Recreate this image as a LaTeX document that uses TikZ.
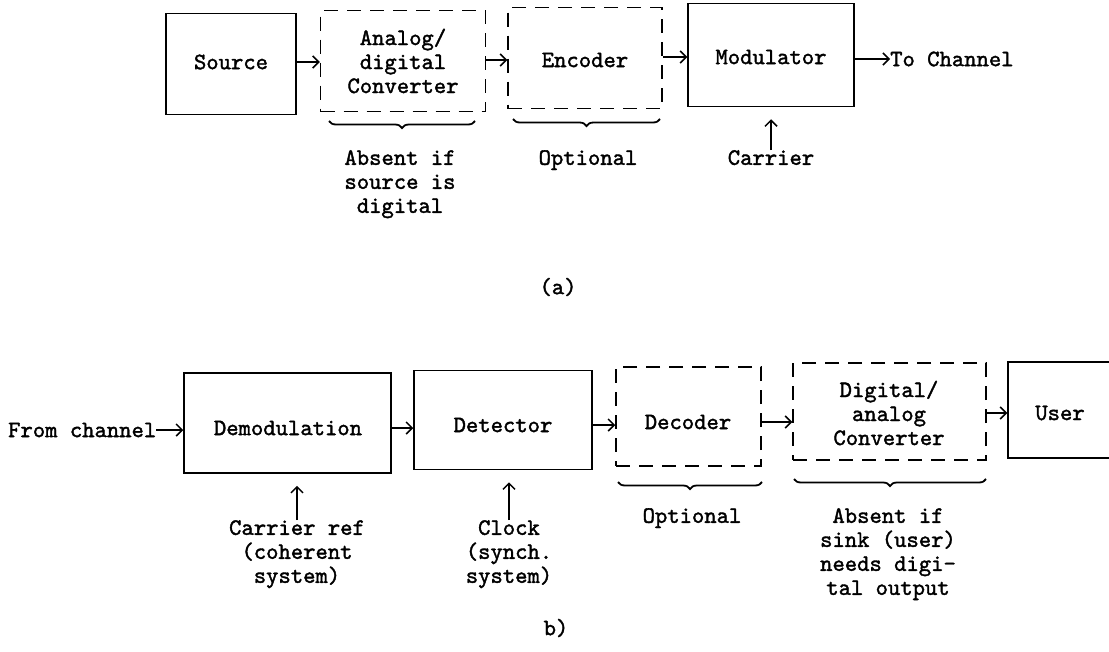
\documentclass[tikz,border=0pt]{standalone}
\usepackage{fontspec}
\newfontfamily\twfont{lmmono10-regular.otf}[FakeBold=1.6]
\usetikzlibrary{arrows.meta,decorations.pathreplacing}
\begin{document}
\begin{tikzpicture}[x=1pt,y=-1pt,
  box/.style={draw, line width=1.5pt, inner sep=0pt},
  optbox/.style={box, dash pattern=on 14pt off 9pt},
  lbl/.style={font=\twfont\fontsize{23.5}{24}\selectfont, inner sep=0pt, align=center},
  arr/.style={line width=1.5pt, -{Straight Barb[length=6pt,width=12pt,line width=1.5pt]}},
  brc/.style={decorate, decoration={brace, mirror, amplitude=7pt}, line width=1.8pt}]
\useasboundingbox (0,0) rectangle (1109,651);
\begin{scope}
\clip (0,0) rectangle (1109,651);
% ---------- (a) ----------
\node[box, minimum width=130pt, minimum height=101pt] (src) at (231,64) {};
\node[optbox, minimum width=165pt, minimum height=101pt] (ad) at (403,61) {};
\node[optbox, minimum width=154pt, minimum height=101pt] (enc) at (585,58) {};
\node[box, minimum width=166pt, minimum height=103pt] (mod) at (771,55) {};
\node[lbl] (tsrc) at (231,62) {Source};
\node[lbl] (tad) at (403,61) {Analog/\\digital\\Converter};
\node[lbl] (tenc) at (585,60) {Encoder};
\node[lbl] (tmod) at (771,57) {Modulator};
\node[lbl, anchor=west] (tch) at (890,59) {To Channel};
\draw[arr] (src.east |- tsrc) -- (ad.west |- tsrc);
\draw[arr] (ad.east |- tenc) -- (enc.west |- tenc);
\draw[arr] (enc.east |- tmod) -- (mod.west |- tmod);
\draw[arr] (mod.east |- tch) -- (tch.west);
\coordinate (b1a) at (329,121);
\coordinate (b1b) at (475,121);
\coordinate (b2a) at (513,119);
\coordinate (b2b) at (660,119);
\draw[brc] (b1a) -- (b1b);
\draw[brc] (b2a) -- (b2b);
\node[lbl, anchor=north] (absa) at (400,150) {Absent if\\source is\\digital};
\node[lbl, anchor=north] (opta) at (588,150) {Optional};
\node[lbl, anchor=north] (tcar) at (771,150) {Carrier};
\draw[arr] (tcar.north) -- ([yshift=-12pt]mod.south);
\node[lbl] (capa) at (558,287) {(a)};
% ---------- (b) ----------
\node[box, minimum width=207pt, minimum height=100pt] (dem) at (287.5,423) {};
\node[box, minimum width=178pt, minimum height=99pt] (det) at (503,420) {};
\node[optbox, minimum width=145pt, minimum height=99pt] (dec) at (688.5,416.5) {};
\node[optbox, minimum width=193pt, minimum height=97pt] (da) at (889.5,411.5) {};
\node[box, minimum width=112pt, minimum height=96pt] (user) at (1064,410) {};
\node[lbl] (tdem) at (288,428) {Demodulation};
\node[lbl] (tdet) at (503,425) {Detector};
\node[lbl] (tdec) at (688,422) {Decoder};
\node[lbl] (tda) at (889,413) {Digital/\\analog\\Converter};
\node[lbl] (tuser) at (1060,413) {User};
\node[lbl, anchor=west] (tfrom) at (8,430) {From channel};
\draw[arr] (tfrom.east) -- (dem.west |- tfrom);
\draw[arr] (dem.east |- tdem) -- (det.west |- tdem);
\draw[arr] (det.east |- tdet) -- (dec.west |- tdet);
\draw[arr] (dec.east |- tdec) -- (da.west |- tdec);
\draw[arr] (da.east |- tuser) -- (user.west |- tuser);
\node[lbl, anchor=north] (carref) at (297,520) {Carrier ref\\(coherent\\system)};
\node[lbl, anchor=north] (clk) at (509,520) {Clock\\(synch.\\system)};
\draw[arr] (carref.north) -- ([yshift=-12pt]dem.south -| carref);
\draw[arr] (clk.north) -- ([yshift=-12pt]det.south -| clk);
\coordinate (b3a) at (618,482);
\coordinate (b3b) at (762,482);
\coordinate (b4a) at (794,479);
\coordinate (b4b) at (986,479);
\draw[brc] (b3a) -- (b3b);
\draw[brc] (b4a) -- (b4b);
\node[lbl, anchor=north] (optb) at (692,508) {Optional};
\node[lbl, anchor=north] (absb) at (888,508) {Absent if\\sink (user)\\needs digi-\\tal output};
\node[lbl] (capb) at (556,628) {b)};
\end{scope}
\end{tikzpicture}
\end{document}
